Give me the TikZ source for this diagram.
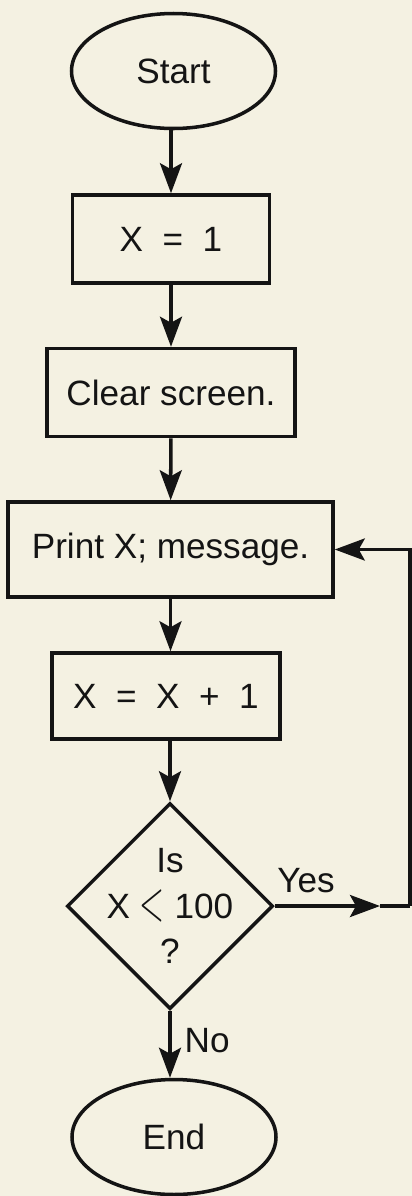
\documentclass[tikz,border=0pt]{standalone}
\usepackage{fontspec}
\setmainfont{Liberation Sans}
\usetikzlibrary{arrows.meta,positioning,shapes.geometric}
\definecolor{paper}{HTML}{F4F1E2}
\definecolor{ink}{HTML}{141414}

\begin{document}
\begin{tikzpicture}[
  x=1cm, y=1cm, >=Stealth,
  every node/.style={text=ink, font=\fontsize{20}{26}\selectfont},
  termblock/.style={ellipse, draw=ink, line width=2pt, minimum width=4.08cm, minimum height=2.3cm, inner sep=0pt},
  procblock/.style={rectangle, draw=ink, line width=2pt, text centered, minimum height=1.76cm, inner sep=0pt},
  testblock/.style={diamond, draw=ink, line width=2pt, minimum width=4.12cm, minimum height=4.12cm, inner sep=0pt},
  line/.style={draw=ink, line width=2pt, -{Stealth[length=6mm, width=4.4mm, inset=1.2mm]}},
  plain/.style={draw=ink, line width=2pt}
]

  % Page
  \fill[paper] (0, 0) rectangle (8.24, -23.92);
  \useasboundingbox (0, 0) rectangle (8.24, -23.92);

  % ==================== MAIN COLUMN (X = 3.42) ====================
  \node[termblock] (start) at (3.47, -1.42) {Start};
  \node[procblock, minimum width=3.94cm] (setx) at (3.42, -4.78) {X~~=~~1};
  \node[procblock, minimum width=4.96cm] (clear) at (3.42, -7.85) {Clear screen.};
  \node[procblock, minimum width=6.5cm, minimum height=1.9cm] (print) at (3.41, -10.99) {Print X; message.};
  \node[procblock, minimum width=4.56cm, minimum height=1.72cm] (incr) at (3.32, -13.92) {X~~=~~X~~+~~1};

  % Decision
  \node[testblock] (check) at (3.40, -18.12) {};
  \node[align=center] (checktext) at (check) {Is\\X~\raisebox{-0.06em}{\scalebox{0.9}[1.6]{$<$}}~100\\?};

  \node[termblock] (finish) at (3.48, -22.74) {End};

  \draw[line] (start.south -| setx.north) -- (setx.north);
  \draw[line] (setx) -- (clear);
  \draw[line] (clear) -- (print);
  \draw[line] (print.south) -- (print.south |- incr.north);
  \draw[line] (incr.south -| check.north) -- (check.north);
  \draw[line] (check.south) -- (finish.north -| check.south)
    node[pos=0.45, right=4pt] (nolabel) {No};

  % ==================== LOOP BACK (Yes) ====================
  \coordinate (yestip) at (7.6, -18.12);
  \coordinate (loopbot) at (8.2, -18.12);

  \draw[line] (check.east) -- (yestip);
  \draw[plain] (yestip) -- (loopbot);
  \draw[line] (loopbot) |- (print.east);
  \node (yeslabel) at (6.12, -17.62) {Yes};

\end{tikzpicture}
\end{document}
